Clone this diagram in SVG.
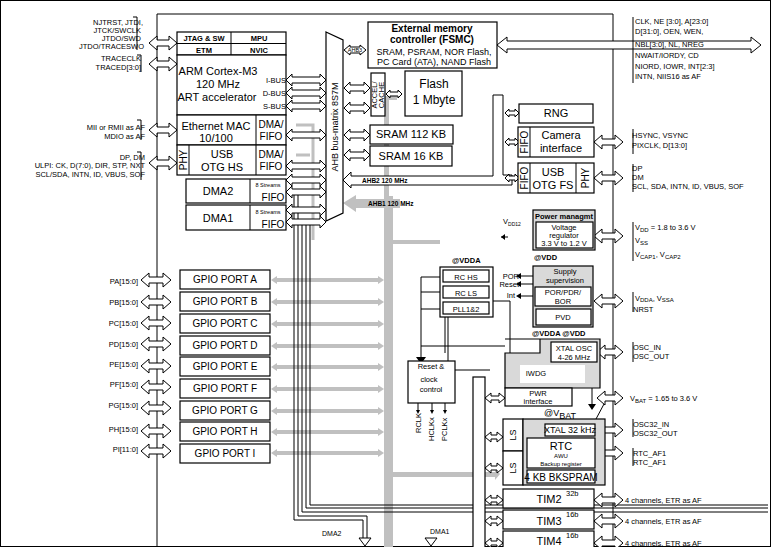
<svg xmlns="http://www.w3.org/2000/svg" width="771" height="547" viewBox="0 0 771 547">
<style>
text{font-family:"Liberation Sans",Arial,sans-serif;fill:#000}
.b{fill:#fff;stroke:#000;stroke-width:1.2}
.g{fill:#d9d9d9;stroke:#000;stroke-width:1.2}
.a{fill:#fff;stroke:#000;stroke-width:1}
.ga{fill:#c0c0c0;stroke:none}
.l{fill:none;stroke:#000;stroke-width:1}
.t8{font-size:7.5px}.t9{font-size:9px}.t10{font-size:10px}.t11{font-size:11px}.t12{font-size:12px}
.bd{font-weight:bold}
</style>
<rect x="0.5" y="0.5" width="770" height="546" fill="#fff" stroke="#000"/>
<g id="chip"><path class="l" d="M157,547 V14 H613 V547"/></g>

<g id="connectors">
<rect class="ga" x="384" y="196" width="9" height="351"/>
<path class="ga" d="M343,203 L356,195 V199 H400 V208 H356 V212 Z"/>
<path class="ga" d="M384,96 H397 V100 H389 V199 H384 Z"/>
<g class="ga">
<path d="M271,280 L277,276 V278 H378 V276 L384,280 L378,284 V282 H277 V284 Z"/>
<path d="M271,302 L277,298 V300 H378 V298 L384,302 L378,306 V304 H277 V306 Z"/>
<path d="M271,324 L277,320 V322 H378 V320 L384,324 L378,328 V326 H277 V328 Z"/>
<path d="M271,346 L277,342 V344 H378 V342 L384,346 L378,350 V348 H277 V350 Z"/>
<path d="M271,367 L277,363 V365 H378 V363 L384,367 L378,371 V369 H277 V371 Z"/>
<path d="M271,389 L277,385 V387 H378 V385 L384,389 L378,393 V391 H277 V393 Z"/>
<path d="M271,411 L277,407 V409 H378 V407 L384,411 L378,415 V413 H277 V415 Z"/>
<path d="M271,432 L277,428 V430 H378 V428 L384,432 L378,436 V434 H277 V436 Z"/>
<path d="M271,453 L277,449 V451 H378 V449 L384,453 L378,457 V455 H277 V457 Z"/>
<path d="M393,472 H495 V468 L500,474 L495,480 V477 H393 Z"/>
<path d="M393,240 H440 V244 H393 Z"/>
</g>
<path d="M296,125 H313 V240 M296,155 H310" fill="none" stroke="#c0c0c0" stroke-width="3"/>
<path class="l" d="M294,195 V520 H363 V540 M298,195 V516 H367 V540"/>
<path class="l" d="M302,225 V512 H768 M306,225 V508 H768 M310,225 V505 H768"/>
<path class="a" d="M359,538 H371 L365,546 Z"/>
<path class="a" d="M425,538 H437 L431,546 Z"/>
<text x="322" y="536" font-size="7">DMA2</text>
<text x="430" y="534" font-size="7">DMA1</text>
<g class="a">
<path d="M149,43 L157,36 V40 H169 V36 L177,43 L169,50 V46 H157 V50 Z"/>
<path d="M149,64 L157,57 V61 H169 V57 L177,64 L169,71 V67 H157 V71 Z"/>
<path d="M149,130 L157,123 V127 H169 V123 L177,130 L169,137 V133 H157 V137 Z"/>
<path d="M149,163 L157,156 V160 H169 V156 L177,163 L169,170 V166 H157 V170 Z"/>
<path d="M286,80 L292,74 V77 H320 V74 L326,80 L320,86 V83 H292 V86 Z"/>
<path d="M286,93 L292,87 V90 H320 V87 L326,93 L320,99 V96 H292 V99 Z"/>
<path d="M286,106 L292,100 V103 H320 V100 L326,106 L320,112 V109 H292 V112 Z"/>
<path d="M286,135 L292,129 V132 H320 V129 L326,135 L320,141 V138 H292 V141 Z"/>
<path d="M286,166 L292,160 V163 H320 V160 L326,166 L320,172 V169 H292 V172 Z"/>
<path d="M286,180 L292,174 V177 H320 V174 L326,180 L320,186 V183 H292 V186 Z"/>
<path d="M286,192 L292,186 V189 H320 V186 L326,192 L320,198 V195 H292 V198 Z"/>
<path d="M286,210 L292,204 V207 H320 V204 L326,210 L320,216 V213 H292 V216 Z"/>
<path d="M286,222 L292,216 V219 H320 V216 L326,222 L320,228 V225 H292 V228 Z"/>
<path d="M344,50 L350,45 V47 H360 V45 L366,50 L360,55 V53 H350 V55 Z"/>
<path d="M344,88 L350,82 V85 H364 V82 L370,88 L364,94 V91 H350 V94 Z"/>
<path d="M344,108 L350,102 V105 H364 V102 L370,108 L364,114 V111 H350 V114 Z"/>
<path d="M344,135 L350,129 V132 H364 V129 L370,135 L364,141 V138 H350 V141 Z"/>
<path d="M344,155 L350,149 V152 H364 V149 L370,155 L364,161 V158 H350 V161 Z"/>
<path d="M386,94 L390,90 V92 H398 V90 L402,94 L398,98 V96 H390 V98 Z"/>
<path d="M343,180 L351,172 V176 H493 V95 H503 V175 H512 V185 H351 V188 Z" fill="#fff"/>
<path d="M505,113 L509,109 V111 H515 V109 L519,113 L515,117 V115 H509 V117 Z"/>
<path d="M505,142 L509,138 V140 H515 V138 L519,142 L515,146 V144 H509 V146 Z"/>
<path d="M505,178 L509,174 V176 H515 V174 L519,178 L515,182 V180 H509 V182 Z"/>
<path d="M497,45 L507,37 V41 H751 V37 L761,45 L751,53 V49 H507 V53 Z"/>
<path d="M594,142 L602,135 V139 H615 V135 L623,142 L615,149 V145 H602 V149 Z"/>
<path d="M594,178 L602,171 V175 H615 V171 L623,178 L615,185 V181 H602 V185 Z"/>
<path d="M594,236 L602,229 V233 H615 V229 L623,236 L615,243 V239 H602 V243 Z"/>
<path d="M594,301 L602,294 V298 H615 V294 L623,301 L615,308 V304 H602 V308 Z"/>
<path d="M597,352 L605,345 V349 H615 V345 L623,352 L615,359 V355 H605 V359 Z"/>
<path d="M597,398 L605,391 V395 H615 V391 L623,398 L615,405 V401 H605 V405 Z"/>
<path d="M595,430 L603,423 V427 H615 V423 L623,430 L615,437 V433 H603 V437 Z"/>
<path d="M595,453 L603,446 V450 H615 V446 L623,453 L615,460 V456 H603 V460 Z"/>
<path d="M594,500 L602,493 V497 H615 V493 L623,500 L615,507 V503 H602 V507 Z"/>
<path d="M594,521 L602,514 V518 H615 V514 L623,521 L615,528 V524 H602 V528 Z"/>
<path d="M594,543 L602,536 V540 H615 V536 L623,543 L615,550 V546 H602 V550 Z"/>
<path d="M485,398 L491,393 V396 H499 V393 L505,398 L499,403 V400 H491 V403 Z"/>
<path d="M485,437 L491,432 V435 H497 V432 L503,437 L497,442 V439 H491 V442 Z"/>
<path d="M485,468 L491,463 V466 H497 V463 L503,468 L497,473 V470 H491 V473 Z"/>
<path d="M485,500 L491,495 V498 H497 V495 L503,500 L497,505 V502 H491 V505 Z"/>
<path d="M485,521 L491,516 V519 H497 V516 L503,521 L497,526 V523 H491 V526 Z"/>
<path d="M485,543 L491,538 V541 H497 V538 L503,543 L497,548 V545 H491 V548 Z"/>
</g>
<g class="a">
<path d="M141,280 L149,273 V277 H163 V273 L171,280 L163,287 V283 H149 V287 Z"/>
<path d="M141,302 L149,295 V299 H163 V295 L171,302 L163,309 V305 H149 V309 Z"/>
<path d="M141,323 L149,316 V320 H163 V316 L171,323 L163,330 V326 H149 V330 Z"/>
<path d="M141,344 L149,337 V341 H163 V337 L171,344 L163,351 V347 H149 V351 Z"/>
<path d="M141,366 L149,359 V363 H163 V359 L171,366 L163,373 V369 H149 V373 Z"/>
<path d="M141,387 L149,380 V384 H163 V380 L171,387 L163,394 V390 H149 V394 Z"/>
<path d="M141,408 L149,401 V405 H163 V401 L171,408 L163,415 V411 H149 V415 Z"/>
<path d="M141,431 L149,424 V428 H163 V424 L171,431 L163,438 V434 H149 V438 Z"/>
<path d="M141,451 L149,444 V448 H163 V444 L171,451 L163,458 V454 H149 V458 Z"/>
</g>
<path class="l" d="M440,277 H421 V360 M440,292 H421 M440,309 H421 M421,346 H505"/>
<path d="M416,357 H426 L421,364 Z"/>
<path class="l" d="M501,237 H508 M520,276 H533 M520,284 H533 M520,296 H533"/>
<path d="M501,237 L505,234 V240 Z M516,276 L521,273 V279 Z M516,284 L521,281 V287 Z M516,296 L521,293 V299 Z"/>
<path class="l" d="M445,311 V353 M448,317 V370 H490 M445,301 H455"/>
<path d="M493,301 L499,297 V305 Z" transform="translate(-48,0)"/>
<path class="l" d="M493,301 H510 V370"/>
<path d="M510,367 L516,370 L510,373 Z"/>
<path class="l" d="M592,388 V405 M596,419 L604,404 M549,432 V440"/>
<path d="M588,404 H596 L592,410 Z M546,438 H552 L549,443 Z"/>
<path class="l" d="M418,403 V411 M432,403 V411 M445,403 V411"/>
<path d="M416,410 H420 L418,414 Z M430,410 H434 L432,414 Z M443,410 H447 L445,414 Z"/>
<path class="l" d="M633,17 V83 M633,129 V154 M633,164 V192 M633,222 V261 M633,292 V312 M633,342 V362 M633,419 V437 M633,448 V466"/>
<path class="l" d="M133,17 H137 V50 M137,55 H141 V72 M137,120 H141 V140 M137,152 H141 V180"/>
</g>

<g id="cortex">
<rect class="b" x="177" y="32" width="109" height="23"/>
<path class="l" d="M177,43.5 H286 M231,32 V55"/>
<text class="t8 bd" x="204" y="41" text-anchor="middle">JTAG &amp; SW</text>
<text class="t8 bd" x="259" y="41" text-anchor="middle">MPU</text>
<text class="t8 bd" x="204" y="53" text-anchor="middle">ETM</text>
<text class="t8 bd" x="259" y="53" text-anchor="middle">NVIC</text>
<rect class="b" x="177" y="55" width="109" height="60"/>
<text class="t11" x="218" y="75" text-anchor="middle">ARM Cortex-M3</text>
<text class="t11" x="218" y="88" text-anchor="middle">120 MHz</text>
<text class="t11" x="217" y="101" text-anchor="middle">ART accelerator</text>
<text class="t8" x="286" y="83" text-anchor="end">I-BUS</text>
<text class="t8" x="286" y="96" text-anchor="end">D-BUS</text>
<text class="t8" x="286" y="109" text-anchor="end">S-BUS</text>
</g>
<g id="eth">
<rect class="b" x="177" y="115" width="109" height="30"/>
<path class="l" d="M256,115 V145"/>
<text class="t11" x="216" y="130" text-anchor="middle">Ethernet MAC</text>
<text class="t11" x="216" y="142" text-anchor="middle">10/100</text>
<text class="t10" x="271" y="128" text-anchor="middle">DMA/</text>
<text class="t10" x="271" y="140" text-anchor="middle">FIFO</text>
</g>
<g id="usbhs">
<rect class="b" x="177" y="145" width="109" height="30"/>
<path class="l" d="M189,145 V175 M256,145 V175"/>
<text class="t10" transform="translate(187,160) rotate(-90)" text-anchor="middle">PHY</text>
<text class="t11" x="222" y="158" text-anchor="middle">USB</text>
<text class="t11" x="222" y="171" text-anchor="middle">OTG HS</text>
<text class="t10" x="271" y="158" text-anchor="middle">DMA/</text>
<text class="t10" x="271" y="170" text-anchor="middle">FIFO</text>
</g>
<g id="dma2">
<rect class="b" x="186" y="179" width="100" height="24"/>
<path class="l" d="M250,179 V203"/>
<text class="t11" x="218" y="195" text-anchor="middle">DMA2</text>
<text font-size="5.5" x="268" y="187" text-anchor="middle">8 Streams</text>
<text class="t10" x="273" y="201" text-anchor="middle">FIFO</text>
</g>
<g id="dma1">
<rect class="b" x="186" y="205" width="100" height="25"/>
<path class="l" d="M250,205 V230"/>
<text class="t11" x="218" y="222" text-anchor="middle">DMA1</text>
<text font-size="5.5" x="268" y="214" text-anchor="middle">8 Streams</text>
<text class="t10" x="273" y="228" text-anchor="middle">FIFO</text>
</g>
<g id="busmatrix">
<path class="b" d="M326,32 L343,40 V213 L326,221 Z"/>
<text class="t9" transform="translate(338,127) rotate(-90)" text-anchor="middle">AHB bus-matrix 8S7M</text>
<text font-size="5.5" x="355" y="52" text-anchor="middle">AHB3</text>
</g>
<g id="fsmc">
<rect class="b" x="368" y="22" width="129" height="46"/>
<text class="t10 bd" x="432" y="32" text-anchor="middle">External memory</text>
<text class="t10 bd" x="432" y="43" text-anchor="middle">controller (FSMC)</text>
<text class="t9" x="434" y="55" text-anchor="middle">SRAM, PSRAM, NOR Flash,</text>
<text class="t9" x="434" y="65" text-anchor="middle">PC Card (ATA), NAND Flash</text>
</g>
<g id="cache">
<rect class="b" x="371" y="73" width="14" height="43"/>
<text class="t8" transform="translate(377,95) rotate(-90)" text-anchor="middle">ACCEL/</text>
<text class="t8" transform="translate(384,95) rotate(-90)" text-anchor="middle">CACHE</text>
</g>
<g id="flash">
<rect class="b" x="405" y="71" width="57" height="45"/>
<text class="t12" x="434" y="88" text-anchor="middle">Flash</text>
<text class="t12" x="434" y="104" text-anchor="middle">1 Mbyte</text>
</g>
<g id="sram112"><rect class="b" x="370" y="125" width="83" height="19"/><text class="t11" x="411" y="138" text-anchor="middle">SRAM 112 KB</text></g>
<g id="sram16"><rect class="b" x="370" y="146" width="82" height="20"/><text class="t11" x="411" y="160" text-anchor="middle">SRAM 16 KB</text></g>
<text class="bd" font-size="6.5" x="362" y="183">AHB2 120 MHz</text>
<text class="bd" font-size="6.5" x="368" y="206">AHB1 120 MHz</text>
<g id="rng"><rect class="b" x="519" y="104" width="74" height="19"/><text class="t11" x="556" y="117" text-anchor="middle">RNG</text></g>
<g id="camera">
<rect class="b" x="518" y="127" width="76" height="30"/><path class="l" d="M530,127 V157"/>
<text class="t10" transform="translate(528,142) rotate(-90)" text-anchor="middle">FIFO</text>
<text class="t11" x="561" y="139" text-anchor="middle">Camera</text>
<text class="t11" x="561" y="152" text-anchor="middle">interface</text>
</g>
<g id="usbfs">
<rect class="b" x="518" y="163" width="76" height="30"/><path class="l" d="M530,163 V193 M576,163 V193"/>
<text class="t10" transform="translate(528,178) rotate(-90)" text-anchor="middle">FIFO</text>
<text class="t10" transform="translate(589,178) rotate(-90)" text-anchor="middle">PHY</text>
<text class="t11" x="553" y="176" text-anchor="middle">USB</text>
<text class="t11" x="553" y="189" text-anchor="middle">OTG FS</text>
</g>
<g id="power">
<rect class="g" x="533" y="210" width="62" height="40"/>
<text class="t8 bd" x="564" y="219" text-anchor="middle">Power managmt</text>
<rect class="b" x="536" y="222" width="57" height="26"/>
<text class="t8" x="564" y="230" text-anchor="middle">Voltage</text>
<text class="t8" x="564" y="238" text-anchor="middle">regulator</text>
<text class="t8" x="564" y="246" text-anchor="middle">3.3 V to 1.2 V</text>
<text class="t8" x="503" y="224">V<tspan font-size="5" dy="2">DD12</tspan></text>
<text class="t8 bd" x="534" y="260">@VDD</text>
</g>
<g id="osc-rc">
<text class="t8 bd" x="452" y="263">@VDDA</text>
<rect class="b" x="440" y="267" width="53" height="50"/>
<rect class="b" x="443" y="270" width="46" height="12"/><text class="t8" x="466" y="280" text-anchor="middle">RC HS</text>
<rect class="b" x="443" y="286" width="46" height="12"/><text class="t8" x="466" y="296" text-anchor="middle">RC LS</text>
<rect class="b" x="443" y="302" width="46" height="12"/><text class="t8" x="466" y="312" text-anchor="middle">PLL1&amp;2</text>
</g>
<g id="supply">
<rect class="g" x="533" y="266" width="60" height="61"/>
<text class="t8" x="565" y="274" text-anchor="middle">Supply</text>
<text class="t8" x="565" y="283" text-anchor="middle">supervision</text>
<rect class="b" x="535" y="287" width="56" height="19"/>
<text class="t8" x="563" y="295" text-anchor="middle">POR/PDR/</text>
<text class="t8" x="563" y="304" text-anchor="middle">BOR</text>
<rect class="b" x="536" y="309" width="55" height="16"/>
<text class="t8" x="563" y="320" text-anchor="middle">PVD</text>
<text class="t8" x="519" y="279" text-anchor="end">POR</text>
<text class="t8" x="519" y="287" text-anchor="end">Reset</text>
<text class="t8" x="515" y="298" text-anchor="end">Int</text>
</g>
<text class="t8 bd" x="532" y="336">@VDDA @VDD</text>
<g id="xtal">
<path class="g" d="M505,339 H600 V388 H505 V353 H540 V339 Z"/>
<rect class="b" x="551" y="342" width="46" height="20"/>
<text class="t8" x="574" y="351" text-anchor="middle">XTAL OSC</text>
<text class="t8" x="574" y="360" text-anchor="middle">4-26 MHz</text>
<rect x="520" y="365" width="65" height="18" fill="#fff"/>
<text class="t8" x="536" y="376" text-anchor="middle">IWDG</text>
</g>
<g id="pwr"><rect class="b" x="505" y="388" width="67" height="18"/><text class="t8" x="538" y="396" text-anchor="middle">PWR</text><text class="t8" x="538" y="404" text-anchor="middle">interface</text></g>
<g id="rcc">
<rect class="b" x="408" y="361" width="47" height="42"/>
<text class="t8" x="431" y="369" text-anchor="middle">Reset &amp;</text>
<text class="t8" x="429" y="382" text-anchor="middle">clock</text>
<text class="t8" x="431" y="392" text-anchor="middle">control</text>
<text class="t8" transform="translate(421,433) rotate(-90)">RCLK</text>
<text class="t8" transform="translate(434,441) rotate(-90)">HCLKx</text>
<text class="t8" transform="translate(447,441) rotate(-90)">PCLKx</text>
</g>
<g id="apb"><rect class="b" x="473" y="377" width="12" height="175"/></g>
<g id="rtc">
<text class="t9" x="560" y="416" text-anchor="middle">@V<tspan dy="3">BAT</tspan></text>
<rect class="b" x="503" y="419" width="20" height="32"/>
<rect class="b" x="503" y="451" width="20" height="34"/>
<text class="t9" transform="translate(516,435) rotate(-90)" text-anchor="middle">LS</text>
<text class="t9" transform="translate(516,468) rotate(-90)" text-anchor="middle">LS</text>
<rect class="g" x="523" y="419" width="82" height="66"/>
<rect class="b" x="545" y="424" width="50" height="12"/>
<text class="t9" x="570" y="433" text-anchor="middle">XTAL 32 kHz</text>
<rect class="b" x="527" y="438" width="68" height="30"/>
<text class="t11" x="561" y="450" text-anchor="middle">RTC</text>
<text font-size="6" x="561" y="458" text-anchor="middle">AWU</text>
<text font-size="6" x="561" y="466" text-anchor="middle">Backup register</text>
<rect class="b" x="527" y="470" width="68" height="13"/>
<text class="t10" x="561" y="481" text-anchor="middle">4 KB BKSPRAM</text>
</g>
<g id="tim2"><rect class="b" x="503" y="489" width="91" height="19"/><text class="t11" x="549" y="503" text-anchor="middle">TIM2</text><text class="t8" x="566" y="496">32b</text></g>
<g id="tim3"><rect class="b" x="503" y="510" width="91" height="19"/><text class="t11" x="549" y="525" text-anchor="middle">TIM3</text><text class="t8" x="566" y="517">16b</text></g>
<g id="tim4"><rect class="b" x="503" y="531" width="91" height="19"/><text class="t11" x="549" y="545" text-anchor="middle">TIM4</text><text class="t8" x="566" y="538">16b</text></g>
<g id="gpio">
<rect class="b" x="180" y="270" width="90" height="19"/><text class="t10" x="225" y="283" text-anchor="middle">GPIO PORT A</text>
<rect class="b" x="180" y="292" width="90" height="19"/><text class="t10" x="225" y="305" text-anchor="middle">GPIO PORT B</text>
<rect class="b" x="180" y="314" width="90" height="19"/><text class="t10" x="225" y="327" text-anchor="middle">GPIO PORT C</text>
<rect class="b" x="180" y="336" width="90" height="19"/><text class="t10" x="225" y="349" text-anchor="middle">GPIO PORT D</text>
<rect class="b" x="180" y="357" width="90" height="19"/><text class="t10" x="225" y="370" text-anchor="middle">GPIO PORT E</text>
<rect class="b" x="180" y="379" width="90" height="19"/><text class="t10" x="225" y="392" text-anchor="middle">GPIO PORT F</text>
<rect class="b" x="180" y="401" width="90" height="19"/><text class="t10" x="225" y="414" text-anchor="middle">GPIO PORT G</text>
<rect class="b" x="180" y="422" width="90" height="19"/><text class="t10" x="225" y="435" text-anchor="middle">GPIO PORT H</text>
<rect class="b" x="180" y="444" width="90" height="19"/><text class="t10" x="225" y="457" text-anchor="middle">GPIO PORT I</text>
<g class="t8" text-anchor="end">
<text x="138" y="284">PA[15:0]</text><text x="138" y="305">PB[15:0]</text><text x="138" y="326">PC[15:0]</text>
<text x="138" y="347">PD[15:0]</text><text x="138" y="367">PE[15:0]</text><text x="138" y="387">PF[15:0]</text>
<text x="138" y="408">PG[15:0]</text><text x="138" y="432">PH[15:0]</text><text x="138" y="452">PI[11:0]</text>
</g>
</g>
<g id="left-labels" class="t8" text-anchor="end">
<text x="143" y="25">NJTRST, JTDI,</text><text x="141" y="33">JTCK/SWCLK</text><text x="141" y="41">JTDO/SWD</text><text x="144" y="49">JTDO/TRACESWO</text>
<text x="141" y="61">TRACECLK</text><text x="141" y="70">TRACED[3:0]</text>
<text x="145" y="130">MII or RMII as AF</text><text x="145" y="139">MDIO as AF</text>
<text x="145" y="160">DP, DM</text><text x="145" y="168">ULPI: CK, D(7:0), DIR, STP, NXT</text><text x="145" y="177">SCL/SDA, INTN, ID, VBUS, SOF</text>
</g>
<g id="right-labels" class="t8">
<text x="635" y="24">CLK, NE [3:0], A[23:0]</text><text x="635" y="34">D[31:0], OEN, WEN,</text>
<text x="635" y="47">NBL[3:0], NL, NREG</text><text x="635" y="58">NWAIT/IORDY, CD</text>
<text x="635" y="69">NIORD, IOWR, INT[2:3]</text><text x="635" y="79">INTN, NIIS16 as AF</text>
<text x="632" y="138">HSYNC, VSYNC</text><text x="632" y="148">PIXCLK, D[13:0]</text>
<text x="632" y="171">DP</text><text x="632" y="180">DM</text><text x="632" y="189">SCL, SDA, INTN, ID, VBUS, SOF</text>
<text x="635" y="230">V<tspan font-size="6" dy="2">DD</tspan><tspan dy="-2"> = 1.8 to 3.6 V</tspan></text>
<text x="635" y="243">V<tspan font-size="6" dy="2">SS</tspan></text>
<text x="635" y="257">V<tspan font-size="6" dy="2">CAP1</tspan><tspan dy="-2">, V</tspan><tspan font-size="6" dy="2">CAP2</tspan></text>
<text x="635" y="301">V<tspan font-size="6" dy="1">DDA</tspan><tspan dy="-1">, V</tspan><tspan font-size="6" dy="1">SSA</tspan></text>
<text x="633" y="312">NRST</text>
<text x="633" y="350">OSC_IN</text><text x="633" y="359">OSC_OUT</text>
<text x="630" y="401">V<tspan font-size="6" dy="2">BAT</tspan><tspan dy="-2"> = 1.65 to 3.6 V</tspan></text>
<text x="633" y="427">OSC32_IN</text><text x="633" y="436">OSC32_OUT</text>
<text x="633" y="456">RTC_AF1</text><text x="633" y="465">RTC_AF1</text>
<text x="625" y="503">4 channels, ETR as AF</text><text x="625" y="524">4 channels, ETR as AF</text><text x="625" y="546">4 channels, ETR as AF</text>
</g>
</svg>
